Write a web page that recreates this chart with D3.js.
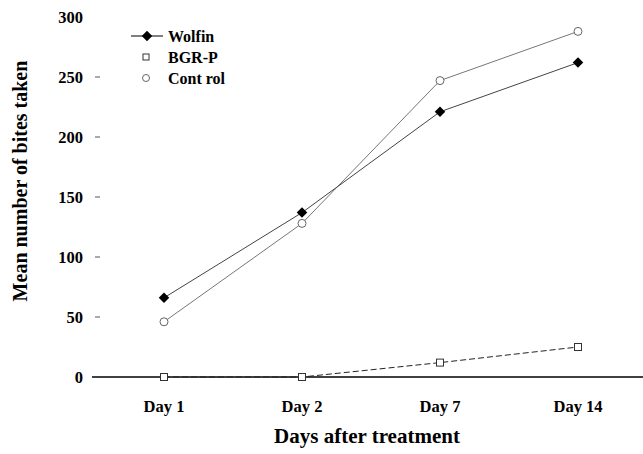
<!DOCTYPE html>
<html>
<head>
<meta charset="utf-8">
<script src="https://cdn.jsdelivr.net/npm/d3@7"></script>
<style>
  body { margin: 0; background: #fff; }
  text { font-family: "Liberation Serif", "Times New Roman", serif; font-weight: bold; }
</style>
</head>
<body>
<div class="chart"></div>
<script>
// chart data
var days = ["Day 1", "Day 2", "Day 7", "Day 14"];
var wolfin = [66, 137, 221, 262];
var bgrp = [0, 0, 12, 25];
var control = [46, 128, 247, 288];
var yTicks = [0, 50, 100, 150, 200, 250, 300];

var svgWidth = 643;
var svgHeight = 454;

var margin = { top: 17, right: 0, bottom: 77, left: 92 };
var width = svgWidth - margin.left - margin.right;
var height = svgHeight - margin.top - margin.bottom;

var svg = d3.select(".chart")
  .append("svg")
  .attr("width", svgWidth)
  .attr("height", svgHeight);

var chartGroup = svg.append("g")
  .attr("transform", `translate(${margin.left}, ${margin.top})`);

var xScale = d3.scalePoint()
  .domain(days)
  .range([72, 486]);

var yScale = d3.scaleLinear()
  .domain([0, 300])
  .range([height, 0]);

// x axis: plain line at zero, labels below
chartGroup.append("line")
  .attr("x1", 0).attr("x2", width)
  .attr("y1", yScale(0)).attr("y2", yScale(0))
  .attr("stroke", "#000").attr("stroke-width", 1.5);

chartGroup.selectAll(".xlab")
  .data(days)
  .enter()
  .append("text")
  .attr("x", d => xScale(d))
  .attr("y", height + 35)
  .attr("text-anchor", "middle")
  .attr("font-size", 16.5)
  .text(d => d);

// y axis ticks: labels and tiny dashes, no axis line
chartGroup.selectAll(".ylab")
  .data(yTicks)
  .enter()
  .append("text")
  .attr("x", -9)
  .attr("y", d => yScale(d) + 5.5)
  .attr("text-anchor", "end")
  .attr("font-size", 16.5)
  .text(d => d);

chartGroup.selectAll(".ytick")
  .data(yTicks.filter(d => d > 0 && d < 300))
  .enter()
  .append("line")
  .attr("x1", 3).attr("x2", 8)
  .attr("y1", d => yScale(d)).attr("y2", d => yScale(d))
  .attr("stroke", "#555").attr("stroke-width", 1);

// axis titles
svg.append("text")
  .attr("transform", `translate(27, 181) rotate(-90)`)
  .attr("text-anchor", "middle")
  .attr("font-size", 20)
  .text("Mean number of bites taken");

svg.append("text")
  .attr("x", 367)
  .attr("y", 443)
  .attr("text-anchor", "middle")
  .attr("font-size", 21)
  .text("Days after treatment");

var line = d3.line()
  .x((d, i) => xScale(days[i]))
  .y(d => yScale(d));

// lines
chartGroup.append("path")
  .datum(control)
  .attr("d", line)
  .attr("fill", "none")
  .attr("stroke", "#777")
  .attr("stroke-width", 1);

chartGroup.append("path")
  .datum(wolfin)
  .attr("d", line)
  .attr("fill", "none")
  .attr("stroke", "#444")
  .attr("stroke-width", 1);

chartGroup.append("path")
  .datum(bgrp)
  .attr("d", line)
  .attr("fill", "none")
  .attr("stroke", "#222")
  .attr("stroke-width", 1)
  .attr("stroke-dasharray", "6,3");

// markers
var diamond = d3.symbol().type(d3.symbolDiamond2).size(70);

chartGroup.selectAll(".wolfin")
  .data(wolfin)
  .enter()
  .append("path")
  .attr("d", diamond)
  .attr("transform", (d, i) => `translate(${xScale(days[i])}, ${yScale(d)})`)
  .attr("fill", "#000");

chartGroup.selectAll(".control")
  .data(control)
  .enter()
  .append("circle")
  .attr("cx", (d, i) => xScale(days[i]))
  .attr("cy", d => yScale(d))
  .attr("r", 4)
  .attr("fill", "#fff")
  .attr("stroke", "#666")
  .attr("stroke-width", 1);

chartGroup.selectAll(".bgrp")
  .data(bgrp)
  .enter()
  .append("rect")
  .attr("x", (d, i) => xScale(days[i]) - 3.5)
  .attr("y", d => yScale(d) - 3.5)
  .attr("width", 7)
  .attr("height", 7)
  .attr("fill", "#fff")
  .attr("stroke", "#333")
  .attr("stroke-width", 1);

// legend
var legend = svg.append("g");

legend.append("line")
  .attr("x1", 131).attr("x2", 163)
  .attr("y1", 36).attr("y2", 36)
  .attr("stroke", "#000").attr("stroke-width", 1);
legend.append("path")
  .attr("d", diamond)
  .attr("transform", "translate(147, 36)")
  .attr("fill", "#000");
legend.append("rect")
  .attr("x", 143).attr("y", 54)
  .attr("width", 6).attr("height", 6)
  .attr("fill", "#fff").attr("stroke", "#333");
legend.append("circle")
  .attr("cx", 146).attr("cy", 78)
  .attr("r", 3.5)
  .attr("fill", "#fff").attr("stroke", "#666");

var legendLabels = ["Wolfin", "BGR-P", "Cont rol"];
legend.selectAll(".leg")
  .data(legendLabels)
  .enter()
  .append("text")
  .attr("x", 168)
  .attr("y", (d, i) => 42 + i * 21)
  .attr("font-size", 16)
  .text(d => d);
</script>
</body>
</html>
